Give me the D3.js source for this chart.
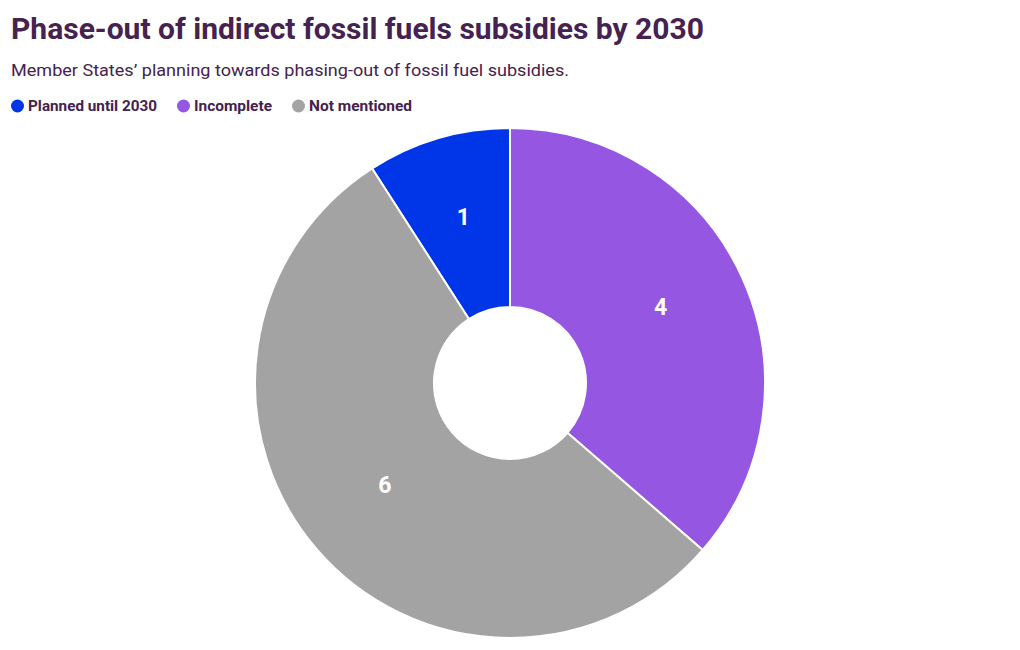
<!DOCTYPE html>
<html><head><meta charset="utf-8">
<script src="https://cdn.jsdelivr.net/npm/d3@7"></script>
<style>
body{margin:0;background:#fff;}
svg text{font-family:Roboto, "Noto Sans", sans-serif;}
</style></head>
<body>
<svg id="chart" width="1020" height="650"></svg>
<script>
const categories = ["Planned until 2030", "Incomplete", "Not mentioned"];
const values = [1, 4, 6];
const colors = ["#0036e8", "#9556e1", "#a3a3a3"];
const title = "Phase-out of indirect fossil fuels subsidies by 2030";
const subtitle = "Member States\u2019 planning towards phasing-out of fossil fuel subsidies.";

const svg = d3.select("#chart");
const textColor = "#45224f";

svg.append("text").attr("x", 11).attr("y", 39)
  .attr("font-size", 29).attr("font-weight", 700).attr("fill", textColor)
  .attr("textLength", 693).attr("lengthAdjust", "spacingAndGlyphs")
  .text(title);
svg.append("text").attr("x", 11).attr("y", 76)
  .attr("font-size", 17).attr("fill", textColor)
  .attr("textLength", 558).attr("lengthAdjust", "spacingAndGlyphs")
  .text(subtitle);

// legend
const legendX = [11, 177, 292];
const legendW = [129, 78, 103];
const lg = svg.append("g");
categories.forEach((c, i) => {
  const g = lg.append("g").attr("transform", `translate(${legendX[i]},106)`);
  g.append("circle").attr("cx", 6.5).attr("cy", 0).attr("r", 6.5).attr("fill", colors[i]);
  g.append("text").attr("x", 17).attr("y", 5).attr("font-size", 14).attr("font-weight", 700)
    .attr("fill", textColor).attr("textLength", legendW[i]).attr("lengthAdjust", "spacingAndGlyphs").text(c);
});

const cx = 510, cy = 383, R = 255, r0 = 76;
const total = d3.sum(values);
const start = -2 * Math.PI * values[0] / total;
const pie = d3.pie().sort(null).startAngle(start).endAngle(start + 2 * Math.PI);
const arcs = pie(values);
const arc = d3.arc().innerRadius(r0).outerRadius(R);
const g = svg.append("g").attr("transform", `translate(${cx},${cy})`);
g.selectAll("path").data(arcs).join("path")
  .attr("d", arc).attr("fill", (d, i) => colors[i])
  .attr("stroke", "#fff").attr("stroke-width", 2).attr("stroke-linejoin", "round");
g.selectAll("text.lbl").data(arcs).join("text").attr("class", "lbl")
  .attr("transform", d => `translate(${arc.centroid(d)})`)
  .attr("text-anchor", "middle").attr("dy", "0.05em")
  .attr("font-size", 23).attr("font-weight", 700).attr("fill", "#fff")
  .text(d => d.data);
</script>
</body></html>
